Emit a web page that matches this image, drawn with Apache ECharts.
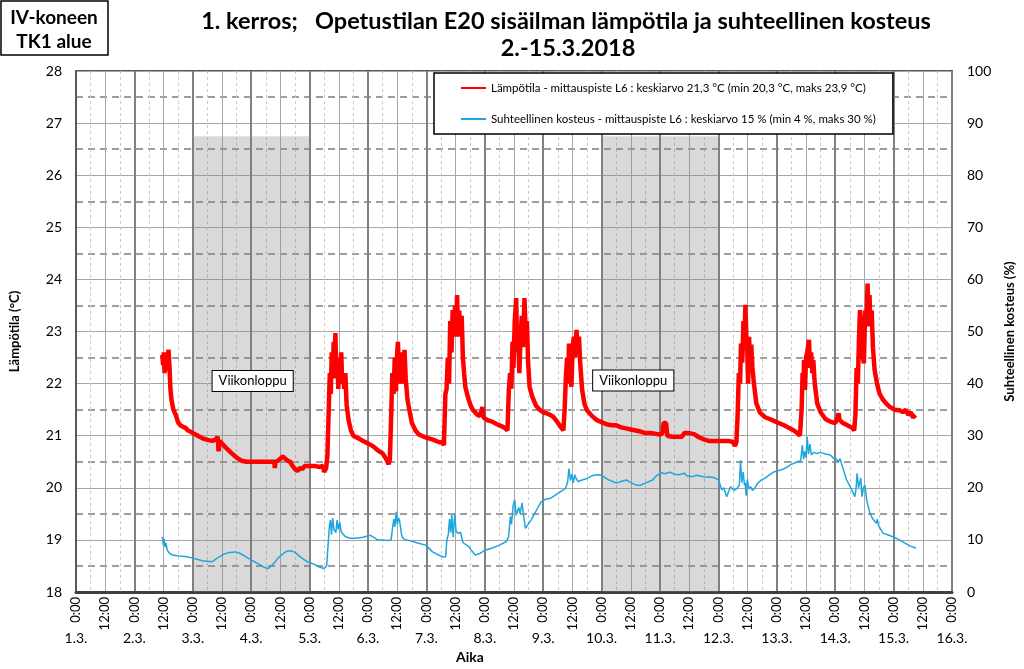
<!DOCTYPE html>
<html><head><meta charset="utf-8">
<script src="https://cdn.jsdelivr.net/npm/echarts@6/dist/echarts.min.js"></script>
<style>html,body{margin:0;padding:0;background:#fff}#c{width:1024px;height:669px}</style>
</head><body><div id="c"></div>
<script>
// hours since 1.3.2018 0:00
const tempHours = [35.5,35.8,36.1,36.4,36.7,37.0,37.3,37.6,38.0,38.4,38.8,39.2,40,41,42,43,44,45,46,47,48,
50,52,54,56,57.5,58.2,58.6,59,60,62,64,66,68,70,72,74,76,78,80,81.5,81.7,82,83,85,86,87,88,89,90,91,92,93,94,96,98,100,101.5,102,102.8,
103.3,103.8,104.3,104.7,105.1,105.5,105.9,106.3,106.6,107.0,107.4,107.8,108.2,108.6,109.0,109.4,109.8,110.2,110.7,111.2,112,113,114,116,118,120,122,124,126,127.5,128.5,129.0,
129.6,130.0,130.5,131.0,131.5,132.0,132.3,132.7,133.1,133.5,134.0,134.5,135.0,135.5,136.2,137,138,139.5,141,143,145,147,149,150.5,151.2,
151.8,152.3,152.8,153.3,153.8,154.3,154.8,155.3,155.8,156.2,156.6,157.0,157.5,158.0,158.5,159.0,159.5,160,161,162,163,164,165,166,167,167.5,169,171,173,175,176.5,177.3,
177.9,178.4,178.9,179.4,179.8,180.3,180.9,181.3,181.7,182.2,182.7,183.2,183.7,184.3,184.8,185.3,185.8,186.4,187.5,189,190.5,192,194,196,198,199.5,200.3,
200.8,201.3,201.8,202.3,202.6,203.1,203.6,204.1,204.6,205.1,205.7,206.2,206.7,207.2,208,209,210,212,214,216,218,220,222,224,226,228,230,232,234,236,238,240,241,241.5,242.5,243,245,247,249,250,252,254,256,258,260,262,264,266,268,270,270.8,271.4,
271.9,272.4,272.9,273.3,273.8,274.3,274.7,275.1,275.5,275.9,276.2,276.6,277.0,277.5,278.0,278.6,279.6,281,283,285,287,289,291,293,295,296.5,297.5,
298.2,298.6,299.0,299.2,299.6,300.0,300.5,301.2,301.7,302.1,302.6,303.0,303.6,304.6,306,308,310,312,313,313.4,313.8,315,317,319,319.8,
320.3,320.8,321.3,321.8,322.2,322.6,323.0,323.4,323.8,324.3,324.8,325.3,325.7,326.1,326.5,327.0,327.5,328.2,329.2,330.2,331.5,332.9,334.5,336.5,338.4,340,341,342,343,344,345];
const tempValues = [22.55,22.35,22.6,22.2,22.5,22.25,22.6,22.3,22.65,22.35,21.9,21.7,21.5,21.4,21.25,21.2,21.17,21.15,21.1,21.08,21.05,
21.0,20.95,20.92,20.9,20.93,20.98,20.7,20.9,20.85,20.75,20.66,20.58,20.52,20.5,20.5,20.5,20.5,20.5,20.5,20.5,20.38,20.5,20.52,20.6,20.56,20.52,20.5,20.42,20.36,20.32,20.38,20.36,20.42,20.42,20.42,20.4,20.42,20.3,20.38,
20.6,21.4,22.2,21.8,22.6,22.1,22.8,22.3,22.97,22.1,22.5,21.9,22.4,22.0,22.6,22.0,22.2,21.9,22.2,21.6,21.3,21.1,21.0,20.95,20.9,20.85,20.8,20.72,20.66,20.55,20.45,20.55,
21.5,22.2,21.8,22.5,21.85,22.6,22.8,22.2,22.6,22.0,22.4,22.0,22.65,22.1,21.7,21.49,21.25,21.1,21.02,20.98,20.95,20.92,20.88,20.87,20.82,
21.8,21.9,22.5,22.0,23.2,22.6,23.41,22.9,23.5,22.9,23.7,23.0,23.4,22.9,23.3,22.5,22.2,21.94,21.75,21.6,21.5,21.45,21.4,21.38,21.55,21.35,21.3,21.27,21.22,21.18,21.14,21.1,
21.9,22.2,21.9,22.8,22.3,23.2,23.64,22.6,23.0,22.2,22.9,23.3,22.7,23.64,23.0,23.2,22.4,21.94,21.75,21.58,21.5,21.45,21.42,21.37,21.25,21.15,21.1,
21.5,22.1,22.5,22.0,22.77,22.2,21.94,22.7,22.9,22.5,23.03,22.6,22.9,22.4,21.88,21.6,21.49,21.38,21.3,21.26,21.22,21.2,21.2,21.16,21.14,21.12,21.1,21.08,21.05,21.05,21.04,21.02,21.05,21.25,21.24,21.0,20.98,20.98,20.98,21.05,21.05,21.03,20.97,20.93,20.9,20.9,20.9,20.9,20.9,20.88,20.8,20.88,
21.4,22.2,22.0,22.77,22.4,23.2,22.8,23.51,22.9,22.6,22.0,22.9,22.4,22.75,22.3,22.0,21.62,21.45,21.36,21.32,21.28,21.24,21.2,21.15,21.1,21.05,21.0,
21.5,22.2,22.0,22.45,21.88,22.5,22.6,22.84,22.3,22.6,22.2,22.45,22.0,21.62,21.45,21.32,21.27,21.24,21.35,21.43,21.3,21.25,21.2,21.15,21.1,
21.4,22.3,22.0,22.9,23.41,22.8,23.3,22.5,22.39,23.4,23.1,23.92,23.3,23.7,23.1,23.4,22.7,22.26,22.0,21.81,21.7,21.62,21.55,21.5,21.49,21.45,21.5,21.4,21.45,21.35,21.4];

const rhHours = [35.5,35.9,36.2,36.6,37.0,37.5,38.5,39.7,42,45,48,52,55.9,58,61,63,65.4,67,69,72.2,75,77,78.9,80,81.5,83,85,86.5,88.4,90,92,95.1,98,100,101.9,
103.0,103.6,104.2,104.6,105.0,105.5,106.0,106.8,107.3,107.8,108.4,109.0,109.6,110.7,112.7,115,118,120.8,122,124,126.2,128,129.5,
130.0,130.6,131.0,131.6,132.0,132.6,133.0,133.8,134.5,136,138.4,141.1,143.8,146.5,149,151.0,151.9,
152.4,153.0,153.5,154.0,154.4,155.0,155.6,156.2,157.0,158.0,159.0,161.4,162.5,164.1,166,168,170.8,174,176.9,
177.8,178.5,179.0,179.6,180.3,180.9,181.4,182.0,182.5,183.3,184.0,184.7,185.5,187.0,189.0,191.1,193.0,195.1,197.0,199.0,201.2,
202.0,202.6,203.2,203.8,204.4,205.0,205.6,206.4,208.0,210.0,212.0,214,216,218.5,222.2,224,226.2,228,230.3,232,234,237,238.5,240.4,242,244,246,247.8,250,251,253.2,255,257,258.5,260,262,264.1,
265.4,266.2,267.4,268.3,269,270.4,271.5,272.2,272.6,273.1,273.6,274.2,274.7,275.0,275.4,275.9,276.5,277.3,278.0,278.9,280,281.6,283,285,287,289.7,292,294,296.5,297.8,
298.5,299.0,299.5,300.0,300.5,301.0,301.6,302.2,303.0,304.6,306,308,310,311.5,312.5,313.4,314.0,315.0,316.7,318.5,320.1,
320.6,321.0,321.6,322.0,322.5,323.0,323.6,324.2,325.0,326.3,327.5,328.9,329.3,329.8,331.6,333.5,335.7,338,341.1,343,345.1];
const rhValues = [10.6,9.0,10.2,8.6,9.4,8.0,7.4,7.1,6.9,6.8,6.5,6.0,5.8,6.5,7.3,7.6,7.7,7.5,7.0,6.1,5.4,4.8,4.5,4.9,5.6,6.5,7.3,7.8,7.9,7.6,6.8,5.8,5.3,4.8,4.5,
5.0,9.0,13.0,13.8,11.0,14.2,12.0,11.4,13.8,12.0,13.4,11.5,11.2,10.6,10.3,10.3,10.5,10.9,10.6,10.0,10.0,9.9,10.0,
12.0,14.0,12.5,15.4,13.0,14.2,13.6,11.0,10.2,10.0,9.7,9.3,9.0,7.7,7.1,6.7,6.8,
10.0,11.0,14.0,11.4,14.8,10.5,15.0,11.7,11.2,11.5,9.5,8.7,8.0,7.1,7.4,8.0,8.4,9.0,9.7,
10.6,14.5,13.0,16.5,17.7,14.7,15.5,16.2,15.0,17.1,14.5,12.2,12.5,13.8,15.5,17.3,17.8,18.0,18.6,19.2,19.9,
21.0,23.7,21.4,22.6,21.0,22.5,21.7,21.2,21.5,21.8,22.3,22.5,22.4,21.6,20.9,21.2,21.5,21.0,20.5,20.5,20.9,21.5,22.3,22.9,22.7,23.0,22.6,22.5,22.8,22.3,22.1,22.4,22.2,22.0,22.1,22.0,21.5,
19.6,20.0,18.3,19.4,20.2,19.5,19.8,19.6,20.5,25.3,21.0,23.0,20.5,21.0,18.5,21.6,19.8,20.2,19.5,19.9,20.8,21.5,21.8,22.5,23.1,23.4,23.9,24.5,25.0,25.2,
28.2,25.5,27.0,25.8,29.8,26.5,28.4,26.3,26.8,26.6,26.8,26.5,26.3,25.6,25.5,25.0,25.6,24.0,21.5,19.9,18.3,
20.0,22.8,20.0,20.8,21.9,18.3,20.0,20.5,17.5,15.1,14.0,13.2,14.0,12.8,11.3,11.0,10.6,10.1,9.3,8.8,8.4];

const weekendStart = [48, 216];
const weekendEnd = [96, 264];
const shadeTop = 26.75;
const dateLabels = ['1.3.','2.3.','3.3.','4.3.','5.3.','6.3.','7.3.','8.3.','9.3.','10.3.','11.3.','12.3.','13.3.','14.3.','15.3.','16.3.'];
const timeLabels = ['0:00','12:00'];

const tempName = 'Lämpötila - mittauspiste L6 : keskiarvo 21,3 °C (min 20,3 °C, maks 23,9 °C)';
const rhName = 'Suhteellinen kosteus - mittauspiste L6 : keskiarvo 15 % (min 4 %, maks 30 %)';

const F = 'Lato, "Open Sans", sans-serif';
const chart = echarts.init(document.getElementById('c'), null, {renderer:'canvas'});

const tempData = tempHours.map((h,i)=>[h,tempValues[i]]);
const rhData = rhHours.map((h,i)=>[h,rhValues[i]]);

chart.setOption({
  animation:false,
  backgroundColor:'#fff',
  textStyle:{fontFamily:F},
  grid:{left:72,right:64,top:71,bottom:77,show:true,borderColor:'#595959',borderWidth:2,backgroundColor:'transparent'},
  legend:{
    data:[tempName, rhName],
    orient:'vertical', left:434, top:73,
    padding:[9,17,9,26], itemGap:19, itemWidth:25, itemHeight:14,
    backgroundColor:'#fff', borderColor:'#000', borderWidth:1.5, borderRadius:0,
    itemStyle:{opacity:0},
    textStyle:{fontFamily:F, fontSize:11.5, color:'#000'},
    selectedMode:false
  },
  xAxis:[
    {type:'value', min:0, max:360, interval:12, position:'bottom',
     axisLine:{show:true,onZero:false,lineStyle:{color:'#404040',width:3}},
     axisTick:{show:false},
     axisLabel:{rotate:90, margin:5, fontSize:13, color:'#000', fontFamily:F,
       formatter:v=>timeLabels[(v%24===0)?0:1]},
     splitLine:{show:true,lineStyle:{color:'#a6a6a6',width:1}},
     minorTick:{show:false,splitNumber:2},
     minorSplitLine:{show:true,lineStyle:{color:'#c8c8c8',width:1,type:[3,3]}}
    },
    {type:'value', min:0, max:360, interval:24, position:'bottom',
     axisLine:{show:false}, axisTick:{show:false},
     axisLabel:{margin:39, fontSize:14, color:'#000', fontFamily:F,
       formatter:v=>dateLabels[Math.round(v/24)]},
     splitLine:{show:true,lineStyle:{color:'#808080',width:2}}
    }
  ],
  yAxis:[
    {type:'value', min:18, max:28, interval:1, position:'left',
     name:'Lämpötila (°C)', nameLocation:'middle', nameGap:55, nameRotate:90,
     nameTextStyle:{fontFamily:F,fontSize:13,fontWeight:'bold',color:'#000'},
     axisLine:{show:true,lineStyle:{color:'#595959',width:2}},
     axisTick:{show:false},
     axisLabel:{margin:14, fontSize:14, color:'#000', fontFamily:F},
     splitLine:{show:true,lineStyle:{color:'#a6a6a6',width:1}},
     minorTick:{show:false,splitNumber:2},
     minorSplitLine:{show:true,lineStyle:{color:'#7f7f7f',width:1.5,type:[7,5]}}
    },
    {type:'value', min:0, max:100, interval:10, position:'right',
     name:'Suhteellinen kosteus (%)', nameLocation:'middle', nameGap:51, nameRotate:90,
     nameTextStyle:{fontFamily:F,fontSize:13,fontWeight:'bold',color:'#000'},
     axisLine:{show:true,lineStyle:{color:'#595959',width:2}},
     axisTick:{show:false},
     axisLabel:{margin:15, fontSize:14, color:'#000', fontFamily:F},
     splitLine:{show:false}
    }
  ],
  series:[
    {name:tempName, type:'line', xAxisIndex:0, yAxisIndex:0, data:tempData,
     symbol:'none', lineStyle:{color:'#ff0000',width:4.5}, itemStyle:{color:'#ff0000'}, z:3},
    {name:rhName, type:'line', xAxisIndex:0, yAxisIndex:1, data:rhData,
     symbol:'none', lineStyle:{color:'#1ea6df',width:1.5}, itemStyle:{color:'#1ea6df'}, z:2},
    {name:'shade', type:'line', xAxisIndex:0, yAxisIndex:0, data:[], z:5, silent:true,
     markArea:{silent:true, itemStyle:{color:'rgba(128,128,128,0.3)'},
       data: weekendStart.map((s,i)=>[{coord:[s,18]},{coord:[weekendEnd[i],shadeTop]}])}},
    {name:'notes', type:'line', xAxisIndex:0, yAxisIndex:0, data:[], z:6, silent:true,
     markPoint:{silent:true, symbol:'rect', symbolSize:1, itemStyle:{color:'rgba(0,0,0,0)'},
       label:{show:true, position:'inside', formatter:'{b}', fontFamily:F, fontSize:13, color:'#000',
         backgroundColor:'#fff', borderColor:'#000', borderWidth:1, padding:[4,6,3,6]},
       data:[{name:'Viikonloppu', coord:[72.6,22.05]},{name:'Viikonloppu', coord:[229,22.06]}]}}
  ],
  graphic:[
    {type:'rect', shape:{x:1,y:1,width:107,height:54}, style:{fill:'#fff',stroke:'#000',lineWidth:1.5}},
    {type:'text', x:54, y:18, style:{text:'IV-koneen', fontFamily:F, fontSize:19, fontWeight:'bold', fill:'#000', align:'center', verticalAlign:'middle'}},
    {type:'text', x:54, y:42, style:{text:'TK1 alue', fontFamily:F, fontSize:19, fontWeight:'bold', fill:'#000', align:'center', verticalAlign:'middle'}},
    {type:'text', x:566, y:21, style:{text:'1. kerros;   Opetustilan E20 sisäilman lämpötila ja suhteellinen kosteus', fontFamily:F, fontSize:23.5, fontWeight:'bold', fill:'#000', align:'center', verticalAlign:'middle'}},
    {type:'text', x:568, y:48, style:{text:'2.-15.3.2018', fontFamily:F, fontSize:23.5, fontWeight:'bold', fill:'#000', align:'center', verticalAlign:'middle'}},
    {type:'text', x:470, y:657, style:{text:'Aika', fontFamily:F, fontSize:14, fontWeight:'bold', fill:'#000', align:'center', verticalAlign:'middle'}}
  ]
});
</script></body></html>
